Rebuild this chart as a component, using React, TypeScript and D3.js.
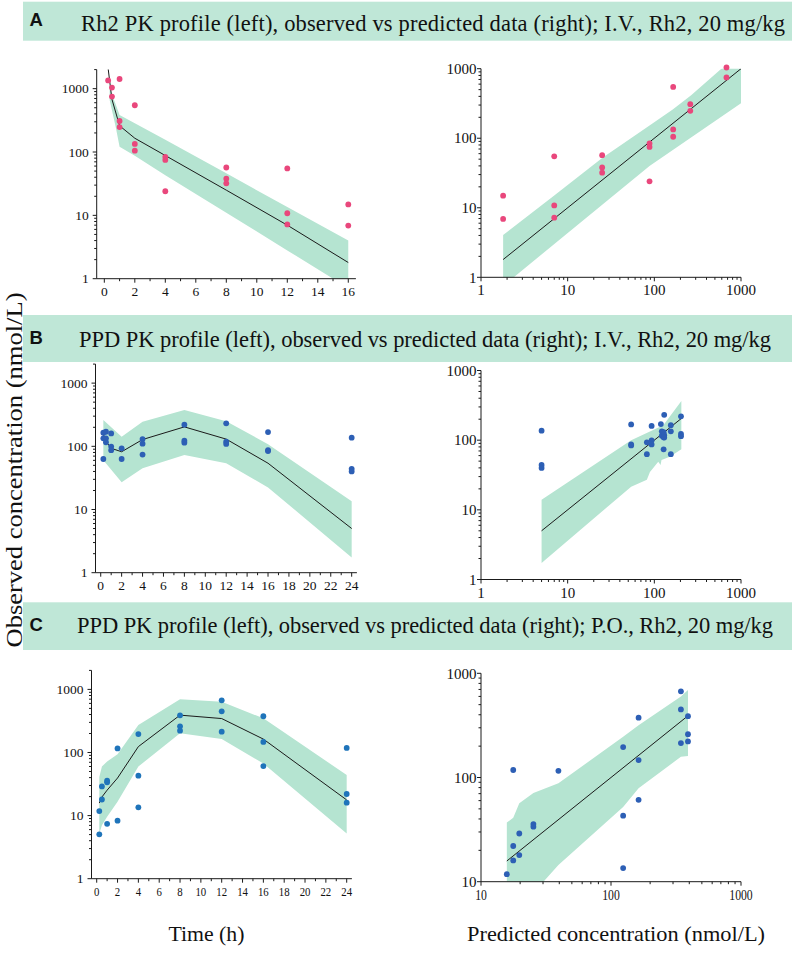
import * as d3 from "d3";

type Obs = [number, number, number]; // time (h), predicted, observed

// ---- Panel A: Rh2, I.V. ----
const aPredTime = [0.083, 0.5, 1, 2, 4, 8, 12, 16];
const aPred = [4400, 680, 260, 165, 88, 25, 7, 1.8];
const aBandTime = [0.35, 0.75, 1, 2, 4, 8, 12, 16];
const aBandHi = [1015, 560, 383, 284, 156, 46, 13.5, 4.0];
const aBandLo = [663, 247, 121, 87, 43, 11, 2.8, 0.71];
const aObs: Obs[] = [
  [0.25, 2700, 1350], [0.5, 680, 1040], [0.5, 680, 750],
  [1, 260, 1420], [1, 260, 309], [1, 260, 248],
  [2, 165, 547], [2, 165, 134], [2, 165, 105],
  [4, 88, 84], [4, 88, 75], [4, 88, 24],
  [8, 25, 57], [8, 25, 38], [8, 25, 32],
  [12, 7, 55], [12, 7, 10.8], [12, 7, 7.2],
  [16, 1.8, 14.9], [16, 1.8, 6.9],
];
const aFitHiX = [1.8, 7, 25, 88, 163, 266, 593, 1000];
const aFitHiY = [4.05, 15, 52, 152, 259, 416, 1000, 1600];
const aFitLoX = [1.8, 88, 1000];
const aFitLoY = [0.75, 40, 318];
const aIdentity = [1.8, 1000];

// ---- Panel B: PPD after I.V. Rh2 ----
const bPredTime = [0.25, 0.5, 1, 2, 4, 8, 12, 16, 24];
const bPred = [155, 120, 93, 82, 128, 203, 130, 54, 5];
const bBandTime = [0.25, 2, 4, 8, 12, 16, 24];
const bBandHi = [261, 142, 245, 375, 250, 108, 13.5];
const bBandLo = [60, 27, 45, 73, 54, 22.4, 1.74];
const bObs: Obs[] = [
  [0.25, 155, 164], [0.25, 155, 134], [0.25, 155, 63],
  [0.5, 119, 170], [0.5, 122, 134], [0.5, 122, 116],
  [1, 93, 160], [1, 93, 99], [1, 93, 87],
  [2, 82, 93], [2, 82, 63],
  [4, 128, 130], [4, 128, 110], [4, 128, 74],
  [8, 203, 220], [8, 203, 123], [8, 203, 114],
  [12, 130, 231], [12, 130, 118], [12, 130, 109],
  [16, 54, 168], [16, 54, 87], [16, 54, 84],
  [24, 5, 137], [24, 5, 44], [24, 5, 40],
];
const bFitHiX = [5, 54, 127, 205];
const bFitHiY = [13.9, 100, 164, 364];
const bFitLoX = [5, 54, 82, 89, 111, 118, 121, 151, 205];
const bFitLoY = [1.73, 21.5, 27, 35, 49, 44, 52, 58, 74];
const bIdentity = [5, 205];

// ---- Panel C: PPD after P.O. Rh2 ----
const cPredTime = [0.25, 0.5, 1, 2, 4, 8, 12, 16, 24];
const cPred = [15.8, 19.7, 25.3, 39.4, 124, 391, 345, 163, 17.7];
const cBandTime = [0.25, 0.5, 1, 2, 4, 8, 12, 16, 24];
const cBandHi = [41, 60, 72, 94, 273, 697, 638, 348, 44];
const cBandLo = [5.2, 7, 9.6, 16.6, 60, 201, 164, 67, 5.2];
const cObs: Obs[] = [
  [0.25, 15.8, 11.8], [0.25, 15.8, 5.05],
  [0.5, 19.7, 29], [0.5, 19.7, 18],
  [1, 25.3, 35.7], [1, 25.3, 33.7], [1, 25.3, 7.4],
  [2, 39.4, 116], [2, 39.4, 8.3],
  [4, 124, 196], [4, 124, 43], [4, 124, 13.5],
  [8, 391, 388], [8, 391, 260], [8, 391, 222],
  [12, 345, 672], [12, 345, 450], [12, 345, 214],
  [16, 163, 375], [16, 163, 147], [16, 163, 61],
  [24, 17.7, 118], [24, 17.7, 22], [24, 17.7, 16],
];
const cFitHiX = [15.8, 17.7, 19.7, 25.3, 39.4, 124, 163, 345, 391];
const cFitHiY = [37, 41, 56.6, 71, 88, 246, 318, 600, 692];
const cFitLoX = [15.8, 30.2, 39.4, 124, 163, 345, 391];
const cFitLoY = [5, 10, 14.5, 52, 79, 158, 161];
const cIdentity = [15.8, 391];

const titles = [
  "Rh2 PK profile (left), observed vs predicted data (right); I.V., Rh2, 20 mg/kg",
  "PPD PK profile (left), observed vs predicted data (right); I.V., Rh2, 20 mg/kg",
  "PPD PK profile (left), observed vs predicted data (right); P.O., Rh2, 20 mg/kg",
];
const panelLetters = ["A", "B", "C"];

const SERIF = "Liberation Serif";
const SANS = "Liberation Sans";
const GREEN = "#b5e4d1";
const HEADER = "#bfe7d7";
const INK = "#1a1a1a";

const isDecade = (v: number) => Math.abs(Math.log10(v) - Math.round(Math.log10(v))) < 1e-9;

function LogYAxis({ y, x, fs, gap }: { y: d3.ScaleLogarithmic<number, number>; x: number; fs: number; gap: number }) {
  const [r0, r1] = y.range();
  return (
    <g>
      <line x1={x} x2={x} y1={r0} y2={r1} stroke={INK} />
      {y.ticks().map((t) => {
        const major = isDecade(t);
        return (
          <g key={t}>
            <line x1={x - (major ? 4 : 2.5)} x2={x} y1={y(t)} y2={y(t)} stroke={INK} />
            {major && (
              <text x={x - gap} y={y(t)} dy="0.35em" textAnchor="end" fontSize={fs} style={{ fontFamily: SERIF }} fill="#111">
                {t}
              </text>
            )}
          </g>
        );
      })}
    </g>
  );
}

function TimePlot(props: {
  id: string; xr: [number, number]; yr: [number, number]; xMax: number;
  predT: number[]; pred: number[]; bandT: number[]; hi: number[]; lo: number[];
  obs: Obs[]; color: string; squeeze?: boolean;
}) {
  const { id, xr, yr, xMax, predT, pred, bandT, hi, lo, obs, color, squeeze } = props;
  const x = d3.scaleLinear().domain([-0.5, xMax + 0.5]).range(xr);
  const y = d3.scaleLog().domain([1, 2000]).range(yr);
  const band = d3.area<number>()
    .x((t) => x(t))
    .y0((_, i) => y(lo[i]))
    .y1((_, i) => y(hi[i]));
  const line = d3.line<number>().x((t) => x(t)).y((_, i) => y(pred[i]));
  const base = yr[0];
  return (
    <g>
      <clipPath id={id}>
        <rect x={xr[0]} y={yr[1]} width={xr[1] - xr[0]} height={yr[0] - yr[1]} />
      </clipPath>
      <g clipPath={`url(#${id})`}>
        <path d={band(bandT) || ""} fill={GREEN} />
        <path d={line(predT) || ""} fill="none" stroke={INK} strokeWidth={1} />
      </g>
      {obs.map((o, i) => (
        <circle key={i} cx={x(o[0])} cy={y(o[2])} r={2.9} fill={color} />
      ))}
      <LogYAxis y={y} x={xr[0]} fs={13.5} gap={8} />
      <line x1={xr[0]} x2={xr[1]} y1={base} y2={base} stroke={INK} />
      {d3.range(0, xMax + 1).map((t) => {
        const major = t % 2 === 0;
        return (
          <g key={t}>
            <line x1={x(t)} x2={x(t)} y1={base} y2={base + (major ? 4 : 2.5)} stroke={INK} />
            {major && (
              <text
                transform={`translate(${x(t)},${base + 17.5}) scale(${squeeze ? 0.8 : 1},1)`}
                textAnchor="middle" fontSize={13.5} style={{ fontFamily: SERIF }} fill="#111"
              >
                {t}
              </text>
            )}
          </g>
        );
      })}
    </g>
  );
}

function FitPlot(props: {
  id: string; xr: [number, number]; yr: [number, number]; lowest: number;
  hiX: number[]; hiY: number[]; loX: number[]; loY: number[]; identity: number[];
  obs: Obs[]; color: string; squeeze?: boolean;
}) {
  const { id, xr, yr, lowest, hiX, hiY, loX, loY, identity, obs, color, squeeze } = props;
  const x = d3.scaleLog().domain([lowest, 1000]).range(xr);
  const y = d3.scaleLog().domain([lowest, 1000]).range(yr);
  const poly: [number, number][] = [
    ...hiX.map((v, i) => [x(v), y(hiY[i])] as [number, number]),
    ...loX.map((v, i) => [x(v), y(loY[i])] as [number, number]).reverse(),
  ];
  const outline = d3.line().curve(d3.curveLinearClosed);
  const base = yr[0];
  const shown = obs.filter((o) => o[1] <= 1050 && o[2] <= 1100 && o[1] >= lowest && o[2] >= lowest * 0.95);
  return (
    <g>
      <clipPath id={id}>
        <rect x={xr[0]} y={yr[1]} width={xr[1] - xr[0]} height={yr[0] - yr[1]} />
      </clipPath>
      <g clipPath={`url(#${id})`}>
        <path d={outline(poly) || ""} fill={GREEN} />
        <line x1={x(identity[0])} y1={y(identity[0])} x2={x(identity[1])} y2={y(identity[1])} stroke={INK} strokeWidth={1} />
      </g>
      {shown.map((o, i) => (
        <circle key={i} cx={x(o[1])} cy={y(o[2])} r={2.9} fill={color} />
      ))}
      <LogYAxis y={y} x={xr[0]} fs={15} gap={4.5} />
      <line x1={xr[0]} x2={xr[1]} y1={base} y2={base} stroke={INK} />
      {x.ticks().map((t) => {
        const major = isDecade(t);
        return (
          <g key={t}>
            <line x1={x(t)} x2={x(t)} y1={base} y2={base + (major ? 4 : 2.5)} stroke={INK} />
            {major && (
              <text
                transform={`translate(${x(t)},${base + 18}) scale(${squeeze ? 0.78 : 1},1)`}
                textAnchor="middle" fontSize={15} style={{ fontFamily: SERIF }} fill="#111"
              >
                {t}
              </text>
            )}
          </g>
        );
      })}
    </g>
  );
}

function Header({ top, h, letterY, titleX, titleY, titleW, i }: {
  top: number; h: number; letterY: number; titleX: number; titleY: number; titleW: number; i: number;
}) {
  return (
    <g>
      <rect x={23} y={top} width={769} height={h} fill={HEADER} />
      <text x={29.5} y={letterY} fontSize={18.5} fontWeight="bold" style={{ fontFamily: SANS }} fill="#111">
        {panelLetters[i]}
      </text>
      <text x={titleX} y={titleY} fontSize={22.5} style={{ fontFamily: SERIF }} fill="#111"
        textLength={titleW} lengthAdjust="spacing">
        {titles[i]}
      </text>
    </g>
  );
}

export default function App() {
  return (
    <svg width={796} height={959} style={{ position: "absolute", left: 0, top: 0, background: "#fff", fontFamily: SERIF }}>
      <rect width={796} height={959} fill="#fff" />

      <Header i={0} top={1.7} h={39} letterY={25.5} titleX={81} titleY={31} titleW={704} />
      <Header i={1} top={315} h={47} letterY={344} titleX={79} titleY={346.7} titleW={692} />
      <Header i={2} top={602.3} h={47.7} letterY={630.5} titleX={77} titleY={633.3} titleW={696} />

      <TimePlot id="clipA1" xr={[96.7, 355.9]} yr={[278.7, 69.6]} xMax={16}
        predT={aPredTime} pred={aPred} bandT={aBandTime} hi={aBandHi} lo={aBandLo}
        obs={aObs} color="#e9477c" />
      <FitPlot id="clipA2" xr={[481, 741]} yr={[277.3, 68.7]} lowest={1}
        hiX={aFitHiX} hiY={aFitHiY} loX={aFitLoX} loY={aFitLoY} identity={aIdentity}
        obs={aObs} color="#e9477c" />

      <TimePlot id="clipB1" xr={[95.5, 356.9]} yr={[572.7, 364.1]} xMax={24}
        predT={bPredTime} pred={bPred} bandT={bBandTime} hi={bBandHi} lo={bBandLo}
        obs={bObs} color="#2d5fb5" />
      <FitPlot id="clipB2" xr={[481, 741]} yr={[579.5, 370.5]} lowest={1}
        hiX={bFitHiX} hiY={bFitHiY} loX={bFitLoX} loY={bFitLoY} identity={bIdentity}
        obs={bObs} color="#2d5fb5" />

      <TimePlot id="clipC1" xr={[91.5, 351.9]} yr={[878.7, 670.4]} xMax={24}
        predT={cPredTime} pred={cPred} bandT={cBandTime} hi={cBandHi} lo={cBandLo}
        obs={cObs} color="#1f74ba" squeeze />
      <FitPlot id="clipC2" xr={[481, 741]} yr={[881.7, 673.3]} lowest={10}
        hiX={cFitHiX} hiY={cFitHiY} loX={cFitLoX} loY={cFitLoY} identity={cIdentity}
        obs={cObs} color="#2d5fb5" squeeze />

      <text transform="translate(21.5,470) rotate(-90)" textAnchor="middle" fontSize={24}
        style={{ fontFamily: SERIF }} fill="#111" textLength={355} lengthAdjust="spacingAndGlyphs">
        Observed concentration (nmol/L)
      </text>
      <text x={206.5} y={941} textAnchor="middle" fontSize={21} style={{ fontFamily: SERIF }} fill="#111"
        textLength={76} lengthAdjust="spacingAndGlyphs">
        Time (h)
      </text>
      <text x={616} y={941} textAnchor="middle" fontSize={21} style={{ fontFamily: SERIF }} fill="#111"
        textLength={298} lengthAdjust="spacingAndGlyphs">
        Predicted concentration (nmol/L)
      </text>
    </svg>
  );
}
